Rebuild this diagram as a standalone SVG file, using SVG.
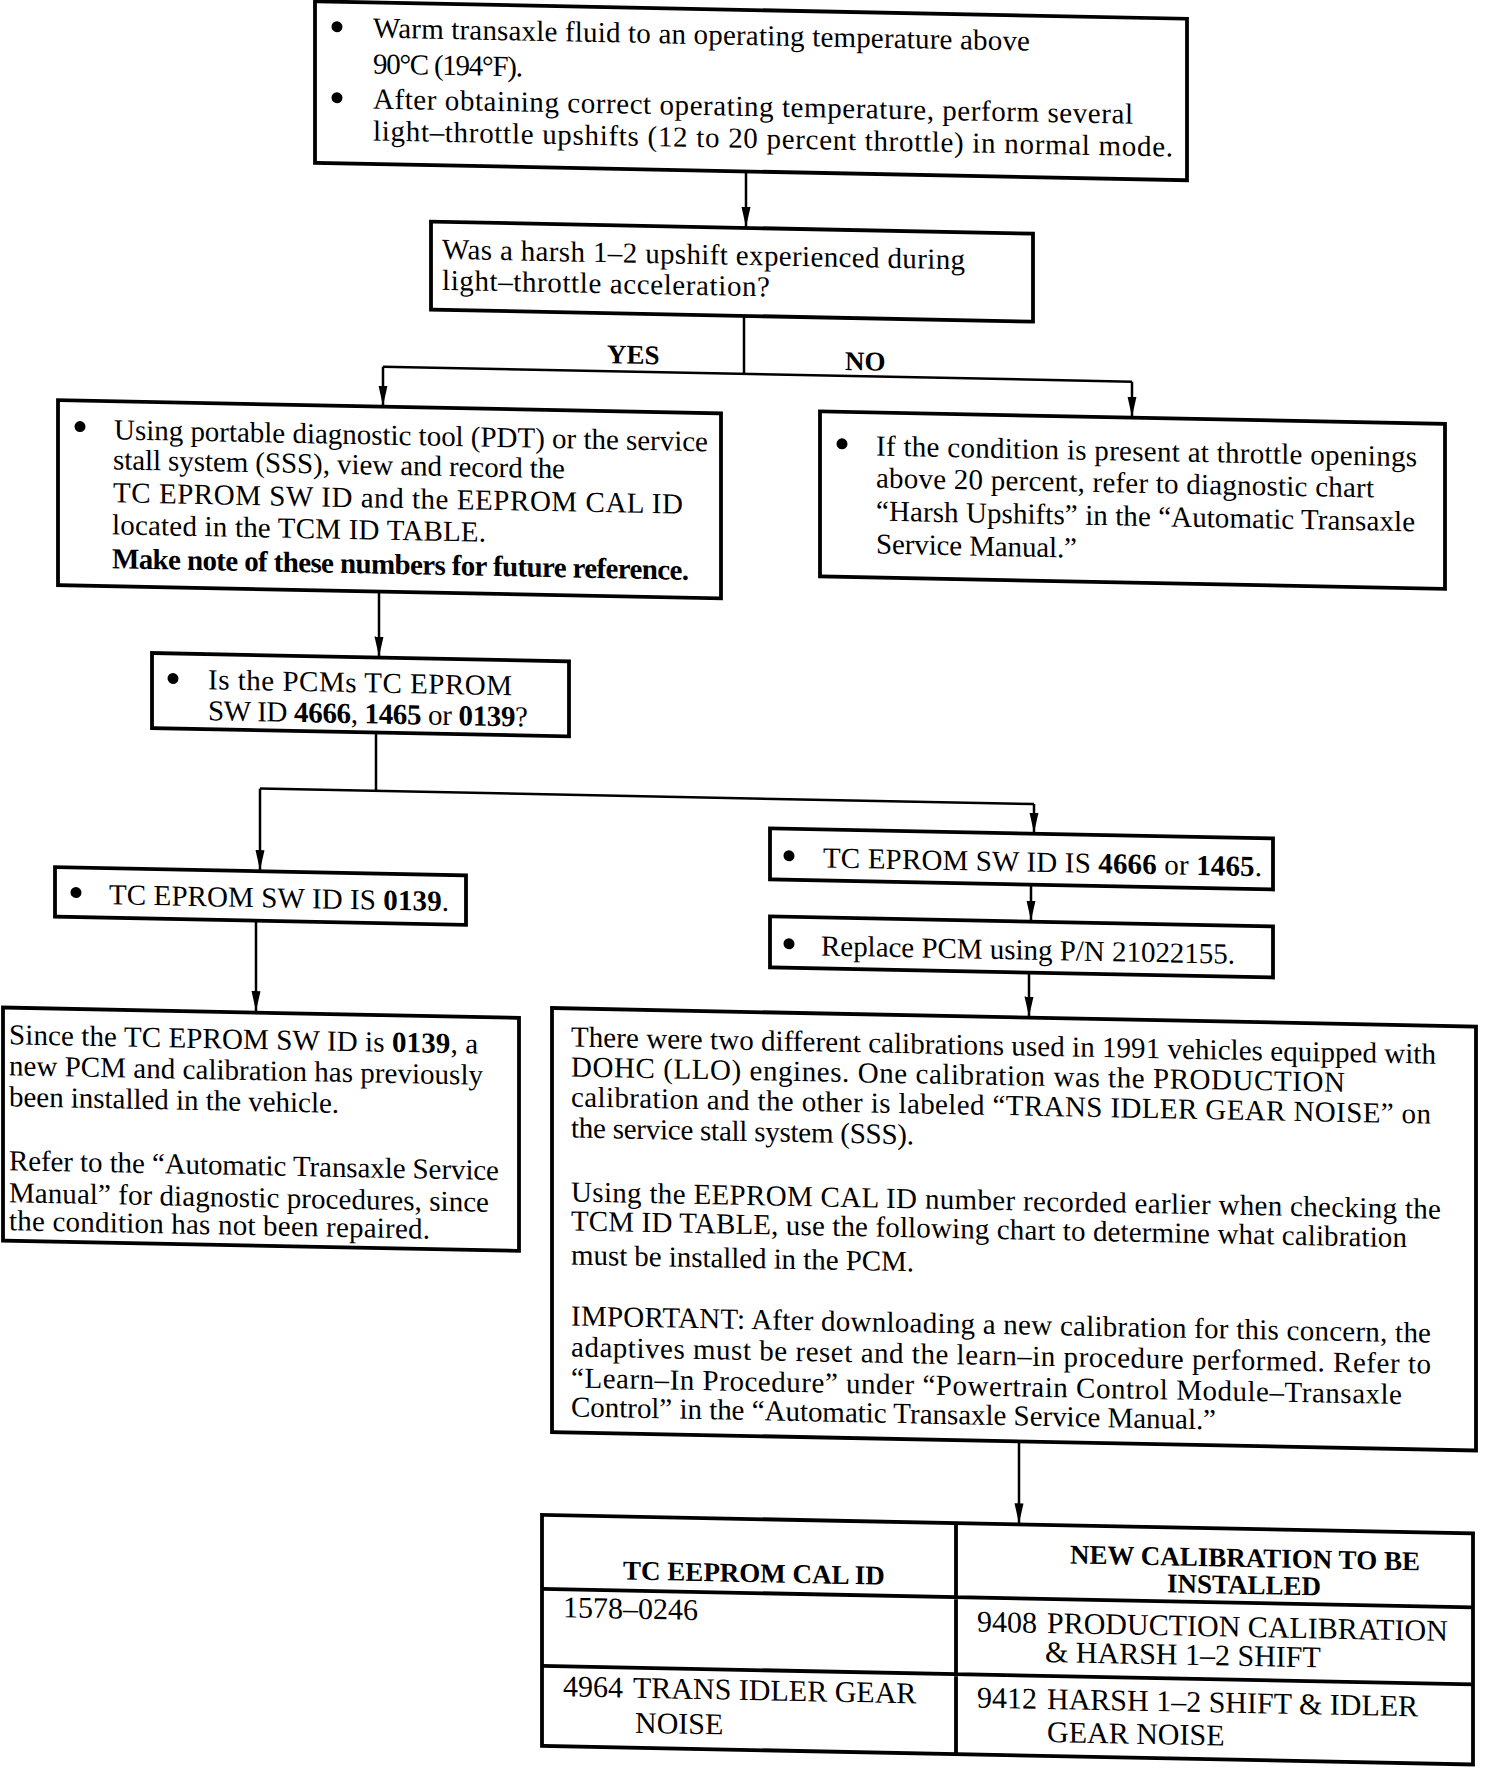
<svg xmlns="http://www.w3.org/2000/svg" width="1504" height="1768" viewBox="0 0 1504 1768">
<style>
.box{fill:#fff;stroke:#000;stroke-width:3.8}
.t{font-family:"Liberation Serif","Times New Roman",serif;font-size:29px;fill:#000}
.tb{font-family:"Liberation Serif","Times New Roman",serif;font-size:30px;fill:#000}
.th{font-family:"Liberation Serif","Times New Roman",serif;font-size:27px;font-weight:bold;fill:#000}
.lbl{font-family:"Liberation Serif","Times New Roman",serif;font-size:27px;font-weight:bold;fill:#000}
.b{font-weight:bold}
.c{fill:none;stroke:#000;stroke-width:2.5}
.dot{fill:#000}
</style>
<defs>
<marker id="ah" markerUnits="userSpaceOnUse" viewBox="0 0 20 10" refX="20" refY="5" markerWidth="20" markerHeight="10" orient="auto">
<path d="M0,0.5 L20,5 L0,9.5 z" fill="#000"/>
</marker>
</defs>
<rect x="0" y="0" width="1504" height="1768" fill="#fff"/>
<g transform="skewY(1.146)">
<g id="connectors">
<path class="c" d="M746,156.5 V212" marker-end="url(#ah)"/>
<path class="c" d="M744,301 V359 M383,359 H1132"/>
<path class="c" d="M383,359 V398" marker-end="url(#ah)"/>
<path class="c" d="M1132,359 V394" marker-end="url(#ah)"/>
<text class="lbl" x="607" y="351">YES</text>
<text class="lbl" x="845" y="353">NO</text>
<path class="c" d="M379,584 V649" marker-end="url(#ah)"/>
<path class="c" d="M376,725 V783.4 M260,783.4 H1034"/>
<path class="c" d="M260,783.4 V865" marker-end="url(#ah)"/>
<path class="c" d="M1034,783.4 V812" marker-end="url(#ah)"/>
<path class="c" d="M1031,864 V900" marker-end="url(#ah)"/>
<path class="c" d="M1029,952 V996" marker-end="url(#ah)"/>
<path class="c" d="M256,915.6 V1006" marker-end="url(#ah)"/>
<path class="c" d="M1019,1421 V1503" marker-end="url(#ah)"/>
</g>
<g id="n1">
<rect class="box" x="315" y="-5" width="872" height="161.5"/>
<circle class="dot" cx="337" cy="20" r="5.5"/>
<circle class="dot" cx="337" cy="91" r="5.5"/>
<text class="t" x="373" y="30" textLength="657">Warm transaxle fluid to an operating temperature above</text>
<text class="t" x="373" y="66" textLength="150">90°C (194°F).</text>
<text class="t" x="373" y="101" textLength="760">After obtaining correct operating temperature, perform several</text>
<text class="t" x="373" y="133" textLength="800">light–throttle upshifts (12 to 20 percent throttle) in normal mode.</text>
</g>
<g id="n2">
<rect class="box" x="431" y="213" width="602" height="88"/>
<text class="t" x="442" y="250" textLength="523">Was a harsh 1–2 upshift experienced during</text>
<text class="t" x="442" y="281" textLength="328">light–throttle acceleration?</text>
</g>
<g id="n3">
<rect class="box" x="58" y="399" width="663" height="185"/>
<circle class="dot" cx="80" cy="425" r="5.5"/>
<text class="t" x="114" y="437" textLength="594">Using portable diagnostic tool (PDT) or the service</text>
<text class="t" x="113" y="467" textLength="452">stall system (SSS), view and record the</text>
<text class="t" x="113" y="500" textLength="570">TC EPROM SW ID and the EEPROM CAL ID</text>
<text class="t" x="112" y="532" textLength="374">located in the TCM ID TABLE.</text>
<text class="t b" x="112" y="566" textLength="577">Make note of these numbers for future reference.</text>
</g>
<g id="n4">
<rect class="box" x="820" y="395" width="625" height="165"/>
<circle class="dot" cx="842" cy="427" r="5.5"/>
<text class="t" x="876" y="438" textLength="541">If the condition is present at throttle openings</text>
<text class="t" x="876" y="470" textLength="498">above 20 percent, refer to diagnostic chart</text>
<text class="t" x="876" y="503" textLength="539">“Harsh Upshifts” in the “Automatic Transaxle</text>
<text class="t" x="876" y="536" textLength="201">Service Manual.”</text>
</g>
<g id="n5">
<rect class="box" x="152" y="650" width="417" height="75"/>
<circle class="dot" cx="173" cy="675" r="5.5"/>
<text class="t" x="208" y="685" textLength="304">Is the PCMs TC EPROM</text>
<text class="t" x="208" y="716" textLength="320">SW ID <tspan class="b">4666</tspan>, <tspan class="b">1465</tspan> or <tspan class="b">0139</tspan>?</text>
</g>
<g id="n6">
<rect class="box" x="55" y="866" width="411" height="49.6"/>
<circle class="dot" cx="76" cy="891" r="5.5"/>
<text class="t" x="109" y="902" textLength="340">TC EPROM SW ID IS <tspan class="b">0139</tspan>.</text>
</g>
<g id="n7">
<rect class="box" x="770" y="813" width="503" height="51"/>
<circle class="dot" cx="789" cy="840" r="5.5"/>
<text class="t" x="823" y="851" textLength="439">TC EPROM SW ID IS <tspan class="b">4666</tspan> or <tspan class="b">1465</tspan>.</text>
</g>
<g id="n8">
<rect class="box" x="770" y="901" width="503" height="51"/>
<circle class="dot" cx="789" cy="928" r="5.5"/>
<text class="t" x="821" y="939" textLength="414">Replace PCM using P/N 21022155.</text>
</g>
<g id="n9">
<rect class="box" x="3" y="1007.5" width="516" height="233"/>
<text class="t" x="9" y="1044" textLength="469">Since the TC EPROM SW ID is <tspan class="b">0139</tspan>, a</text>
<text class="t" x="9" y="1075" textLength="474">new PCM and calibration has previously</text>
<text class="t" x="9" y="1106" textLength="330">been installed in the vehicle.</text>
<text class="t" x="9" y="1170" textLength="490">Refer to the “Automatic Transaxle Service</text>
<text class="t" x="9" y="1202" textLength="480">Manual” for diagnostic procedures, since</text>
<text class="t" x="9" y="1230" textLength="421">the condition has not been repaired.</text>
</g>
<g id="n10">
<rect class="box" x="552" y="997" width="924" height="424"/>
<text class="t" x="571" y="1035" textLength="865">There were two different calibrations used in 1991 vehicles equipped with</text>
<text class="t" x="571" y="1065" textLength="774">DOHC (LLO) engines.  One calibration was the PRODUCTION</text>
<text class="t" x="571" y="1095" textLength="860">calibration and the other is labeled “TRANS IDLER GEAR NOISE” on</text>
<text class="t" x="571" y="1126" textLength="343">the service stall system (SSS).</text>
<text class="t" x="571" y="1190" textLength="870">Using the EEPROM CAL ID number recorded earlier when checking the</text>
<text class="t" x="571" y="1219" textLength="836">TCM ID TABLE, use the following chart to determine what calibration</text>
<text class="t" x="571" y="1253" textLength="343">must be installed in the PCM.</text>
<text class="t" x="571" y="1314" textLength="860">IMPORTANT:  After downloading a new calibration for this concern, the</text>
<text class="t" x="571" y="1345" textLength="860">adaptives must be reset and the learn–in procedure performed.  Refer to</text>
<text class="t" x="571" y="1376" textLength="831">“Learn–In Procedure” under “Powertrain Control Module–Transaxle</text>
<text class="t" x="571" y="1405" textLength="645">Control” in the “Automatic Transaxle Service Manual.”</text>
</g>
<g id="n11">
<rect class="box" x="542" y="1504" width="931" height="231"/>
<path class="box" d="M956,1504 V1735 M542,1578 H1473 M542,1655 H1473"/>
<text class="th" x="754" y="1567" text-anchor="middle">TC EEPROM CAL ID</text>
<text class="th" x="1245" y="1542" text-anchor="middle">NEW CALIBRATION TO BE</text>
<text class="th" x="1244" y="1569" text-anchor="middle">INSTALLED</text>
<text class="tb" x="563" y="1606">1578–0246</text>
<text class="tb" x="977" y="1612">9408</text>
<text class="tb" x="1047" y="1612">PRODUCTION CALIBRATION</text>
<text class="tb" x="1045" y="1641">&amp; HARSH 1–2 SHIFT</text>
<text class="tb" x="563" y="1685">4964</text>
<text class="tb" x="633" y="1685">TRANS IDLER GEAR</text>
<text class="tb" x="635" y="1720">NOISE</text>
<text class="tb" x="977" y="1688">9412</text>
<text class="tb" x="1047" y="1688">HARSH 1–2 SHIFT &amp; IDLER</text>
<text class="tb" x="1047" y="1721">GEAR NOISE</text>
</g>
</g>
</svg>
